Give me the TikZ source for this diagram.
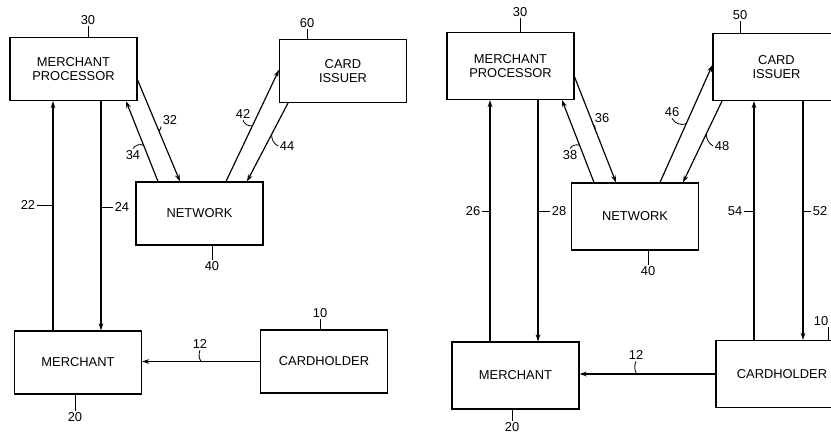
\documentclass[tikz,border=0pt]{standalone}
\usepackage{fontspec}
\setmainfont{Liberation Sans}
\usetikzlibrary{arrows.meta}

\begin{document}
\begin{tikzpicture}[x=0.03cm,y=-0.03cm,>={Stealth[length=6pt,width=4pt]},line width=1pt,
  every node/.style={font=\fontsize{11}{12}\selectfont},
  box/.style={draw,align=center,minimum width=3.81cm,minimum height=1.89cm,inner sep=0pt},
  boxr/.style={box,minimum height=2.01cm},
  refnum/.style={inner sep=1pt},
  lead/.style={line width=0.7pt}]
\useasboundingbox (0,0) rectangle (831,436);
\clip (0,0) rectangle (831,436);
% first system
\node[box] (mpL) at (73.5,69) {MERCHANT\\PROCESSOR};
\node[box] (ciL) at (343,71) {CARD\\ISSUER};
\node[box] (nwL) at (199.5,213.5) {NETWORK};
\node[box] (merL) at (78,362.5) {MERCHANT};
\node[box] (chL) at (324,361.5) {CARDHOLDER};
\draw[->] (merL.north -| 53,0) -- coordinate (p22) (mpL.south -| 53,0);
\draw[->] (mpL.south -| 101,0) -- coordinate (p24) (merL.north -| 101,0);
\draw[->] (mpL.east |- 0,80) -- coordinate[pos=0.5] (p32) (nwL.north -| 180,0);
\draw[->] (nwL.north -| 158,0) -- coordinate[pos=0.45] (p34) (mpL.south -| 126,0);
\draw[->] (nwL.north -| 226,0) -- coordinate[pos=0.5] (p42) (ciL.west |- 0,70);
\draw[->] (ciL.south -| 288,0) -- coordinate[pos=0.4] (p44) (nwL.north -| 247,0);
\draw[->] (chL.west) -- coordinate[pos=0.5] (p12L) (merL.east |- chL.west);
\node[refnum] (l30L) at (88,20) {30}; \draw[lead] (l30L.south) -- (mpL.north -| l30L.south);
\node[refnum] (l60) at (307,23) {60}; \draw[lead] (l60.south) -- (ciL.north -| l60.south);
\node[refnum] (l40L) at (212,266) {40}; \draw[lead] (l40L.north) -- (nwL.south -| l40L.north);
\node[refnum] (l20L) at (75,417) {20}; \draw[lead] (l20L.north) -- (merL.south -| l20L.north);
\node[refnum] (l10L) at (320,313) {10}; \draw[lead] (l10L.south) -- (chL.north -| l10L.south);
\node[refnum] (l12L) at (200,344) {12}; \draw[lead] (l12L.south) to[bend right=25] (p12L);
\node[refnum] (l22) at (28,205) {22}; \draw[lead] (l22.east) -- (l22.east -| p22);
\node[refnum] (l24) at (122,207) {24}; \draw[lead] (l24.west) -- (l24.west -| p24);
\node[refnum] (l32) at (170,120) {32}; \draw[lead] (l32.south west) to[bend left=30] (p32);
\node[refnum] (l34) at (133,155) {34}; \draw[lead] (l34.north) to[bend left=40] (p34);
\node[refnum] (l42) at (243,114) {42}; \draw[lead] (l42.south) to[bend right=40] (p42);
\node[refnum] (l44) at (287,146) {44}; \draw[lead] (l44.west) to[bend left=30] (p44);
% second system
\node[boxr] (mpR) at (510.5,66) {MERCHANT\\PROCESSOR};
\node[boxr] (ciR) at (776.5,67) {CARD\\ISSUER};
\node[boxr] (nwR) at (635,216.5) {NETWORK};
\node[boxr] (merR) at (515.5,375.5) {MERCHANT};
\node[boxr,minimum width=3.96cm] (chR) at (782,374) {CARDHOLDER};
\draw[->] (merR.north -| 490,0) -- coordinate (p26) (mpR.south -| 490,0);
\draw[->] (mpR.south -| 538,0) -- coordinate (p28) (merR.north -| 538,0);
\draw[->] (mpR.east |- 0,77) -- coordinate[pos=0.5] (p36) (nwR.north -| 616,0);
\draw[->] (nwR.north -| 594,0) -- coordinate[pos=0.45] (p38) (mpR.south -| 562,0);
\draw[->] (nwR.north -| 660,0) -- coordinate[pos=0.5] (p46) (ciR.west |- 0,65);
\draw[->] (ciR.south -| 722,0) -- coordinate[pos=0.4] (p48) (nwR.north -| 683,0);
\draw[->] (chR.north -| 754,0) -- coordinate (p54) (ciR.south -| 754,0);
\draw[->] (ciR.south -| 803,0) -- coordinate (p52) (chR.north -| 803,0);
\draw[->] (chR.west) -- coordinate[pos=0.58] (p12R) (merR.east |- chR.west);
\node[refnum] (l30R) at (520,12) {30}; \draw[lead] (l30R.south) -- (mpR.north -| l30R.south);
\node[refnum] (l50) at (740,15) {50}; \draw[lead] (l50.south) -- (ciR.north -| l50.south);
\node[refnum] (l40R) at (648,271) {40}; \draw[lead] (l40R.north) -- (nwR.south -| l40R.north);
\node[refnum] (l20R) at (512,427) {20}; \draw[lead] (l20R.north) -- (merR.south -| l20R.north);
\node[refnum] (l10R) at (821,321) {10}; \coordinate (t10R) at ([xshift=-0.05cm]l10R.south east);
\draw[lead] (t10R) -- (chR.north -| t10R);
\node[refnum] (l12R) at (636,355) {12}; \draw[lead] (l12R.south) to[bend right=25] (p12R);
\node[refnum] (l26) at (473,211) {26}; \draw[lead] (l26.east) -- (l26.east -| p26);
\node[refnum] (l28) at (559,211) {28}; \draw[lead] (l28.west) -- (l28.west -| p28);
\node[refnum] (l54) at (735,211) {54}; \draw[lead] (l54.east) -- (l54.east -| p54);
\node[refnum] (l52) at (820,211) {52}; \draw[lead] (l52.west) -- (l52.west -| p52);
\node[refnum] (l36) at (602,118) {36}; \draw[lead] (l36.south west) to[bend left=30] (p36);
\node[refnum] (l38) at (570,155) {38}; \draw[lead] (l38.north) to[bend left=40] (p38);
\node[refnum] (l46) at (672,112) {46}; \draw[lead] (l46.south) to[bend right=40] (p46);
\node[refnum] (l48) at (722,146) {48}; \draw[lead] (l48.west) to[bend left=30] (p48);
\end{tikzpicture}
\end{document}
